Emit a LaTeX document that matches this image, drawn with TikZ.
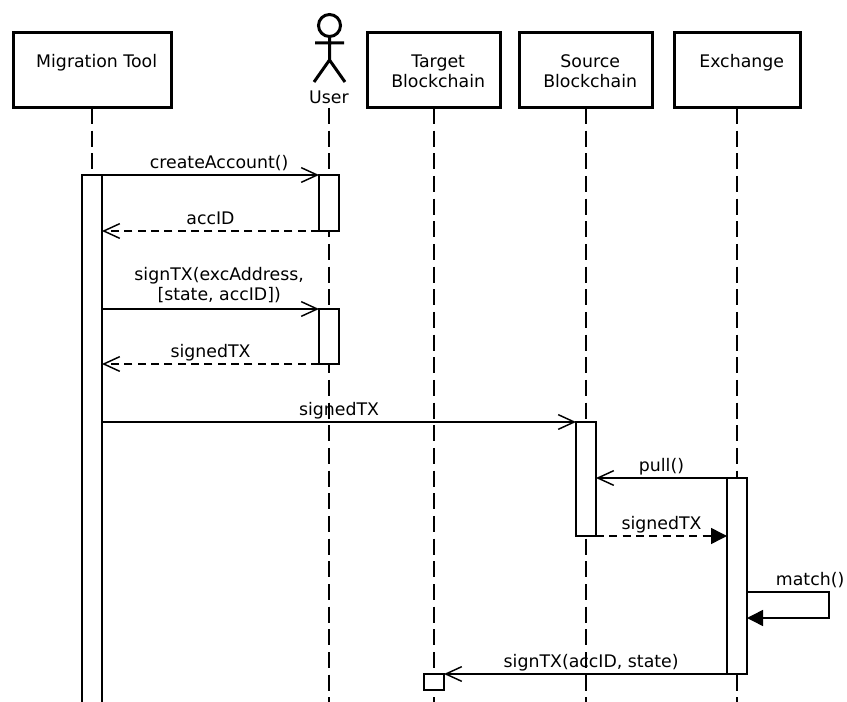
\documentclass[tikz,border=0pt]{standalone}
\usepackage{fontspec}
\setmainfont{DejaVu Sans}
\usetikzlibrary{arrows.meta}

\begin{document}
\begin{tikzpicture}[x=0.75pt, y=-0.75pt,
  font=\fontsize{13}{15}\selectfont,
  head/.style={draw, line width=2.25pt, minimum width=#1, minimum height=56.25pt, inner sep=0, outer sep=0},
  headtext/.style={anchor=north, yshift=-16pt, xshift=3.5pt, align=center, inner sep=0},
  life/.style={line width=1.5pt, dash pattern=on 12pt off 5pt},
  bar/.style={draw, fill=white, line width=1.1pt, minimum width=15pt, minimum height=#1, inner sep=0, outer sep=0},
  call/.style={line width=1.1pt, -{Straight Barb[length=12pt, width=11pt]}},
  reply/.style={call, dash pattern=on 6pt off 4pt},
  sigreply/.style={line width=1.1pt, dash pattern=on 6pt off 4pt, -{Triangle[length=12pt, width=12pt]}},
  selfcall/.style={line width=1.1pt, -{Triangle[length=12pt, width=12pt]}},
  msg/.style={anchor=base, yshift=5pt, inner sep=0},
  msgtwo/.style={anchor=south, yshift=4pt, inner sep=0, align=center},
]
  \useasboundingbox (0,0) rectangle (847,702);
  \coordinate (bottom) at (0,705);

  % Define lifeline heads
  \node[head=118.5pt] (mig) at (92,70.5) {};
  \node[head=99.75pt] (tgt) at (433.5,70.5) {};
  \node[head=99.75pt] (src) at (585.5,70.5) {};
  \node[head=94.5pt] (exc) at (737,70.5) {};
  \node[headtext] (migtxt) at (mig.north) {Migration Tool};
  \node[headtext] (tgttxt) at (tgt.north) {Target\\Blockchain};
  \node[headtext] (srctxt) at (src.north) {Source\\Blockchain};
  \node[headtext] (exctxt) at (exc.north) {Exchange};

  % User actor
  \draw[line width=2.25pt] (329.5,25.5) circle[radius=8.25pt];
  \draw[line width=2.25pt] (329.5,37) -- (329.5,60) (315,43) -- (344,43)
    (314,82) -- (329.5,60) -- (345,82);
  \node[inner sep=0] (usr) at (329,97) {User};

  % Lifelines
  \foreach \h in {mig,tgt,src,exc}
    \draw[life] (\h.south) -- (\h.south |- bottom);
  \draw[life] (usr.south |- mig.south) -- (usr.south |- bottom);

  % Activation bars
  \node[bar=401.25pt] (migbar) at (92,442.5) {};
  \node[bar=42pt] (usrbar1) at (329,203) {};
  \node[bar=41.25pt] (usrbar2) at (329,336.5) {};
  \node[bar=85.5pt] (srcbar) at (586,479) {};
  \node[bar=147pt] (excbar) at (737,576) {};
  \node[bar=12pt] (tgtbar) at (434,682) {};

  % Messages
  \draw[call] (migbar.north east) -- node[msg, pos=0.54] {createAccount()} (usrbar1.north west);
  \draw[reply] (usrbar1.south west) -- node[msg, midway] {accID} (migbar.east |- usrbar1.south);
  \draw[call] (migbar.east |- usrbar2.north) -- node[msgtwo, pos=0.54] {signTX(excAddress,\\{}[state, accID])} (usrbar2.north west);
  \draw[reply] (usrbar2.south west) -- node[msg, midway] {signedTX} (migbar.east |- usrbar2.south);
  \draw[call] (migbar.east |- srcbar.north) -- node[msg, midway] {signedTX} (srcbar.north west);
  \draw[call] (excbar.north west) -- node[msg, midway] {pull()} (srcbar.east |- excbar.north);
  \draw[sigreply] (srcbar.south east) -- node[msg, midway] {signedTX} (excbar.west |- srcbar.south);

  % Self message on exchange
  \coordinate (loopa) at (829,592);
  \coordinate (loopb) at (829,618);
  \draw[selfcall] (excbar.east |- loopa) -- node[msg, pos=0.77] {match()} (loopa) -- (loopb) -- (excbar.east |- loopb);

  \draw[call] (excbar.south west) -- node[msg, pos=0.48] {signTX(accID, state)} (tgtbar.north east);
\end{tikzpicture}
\end{document}
